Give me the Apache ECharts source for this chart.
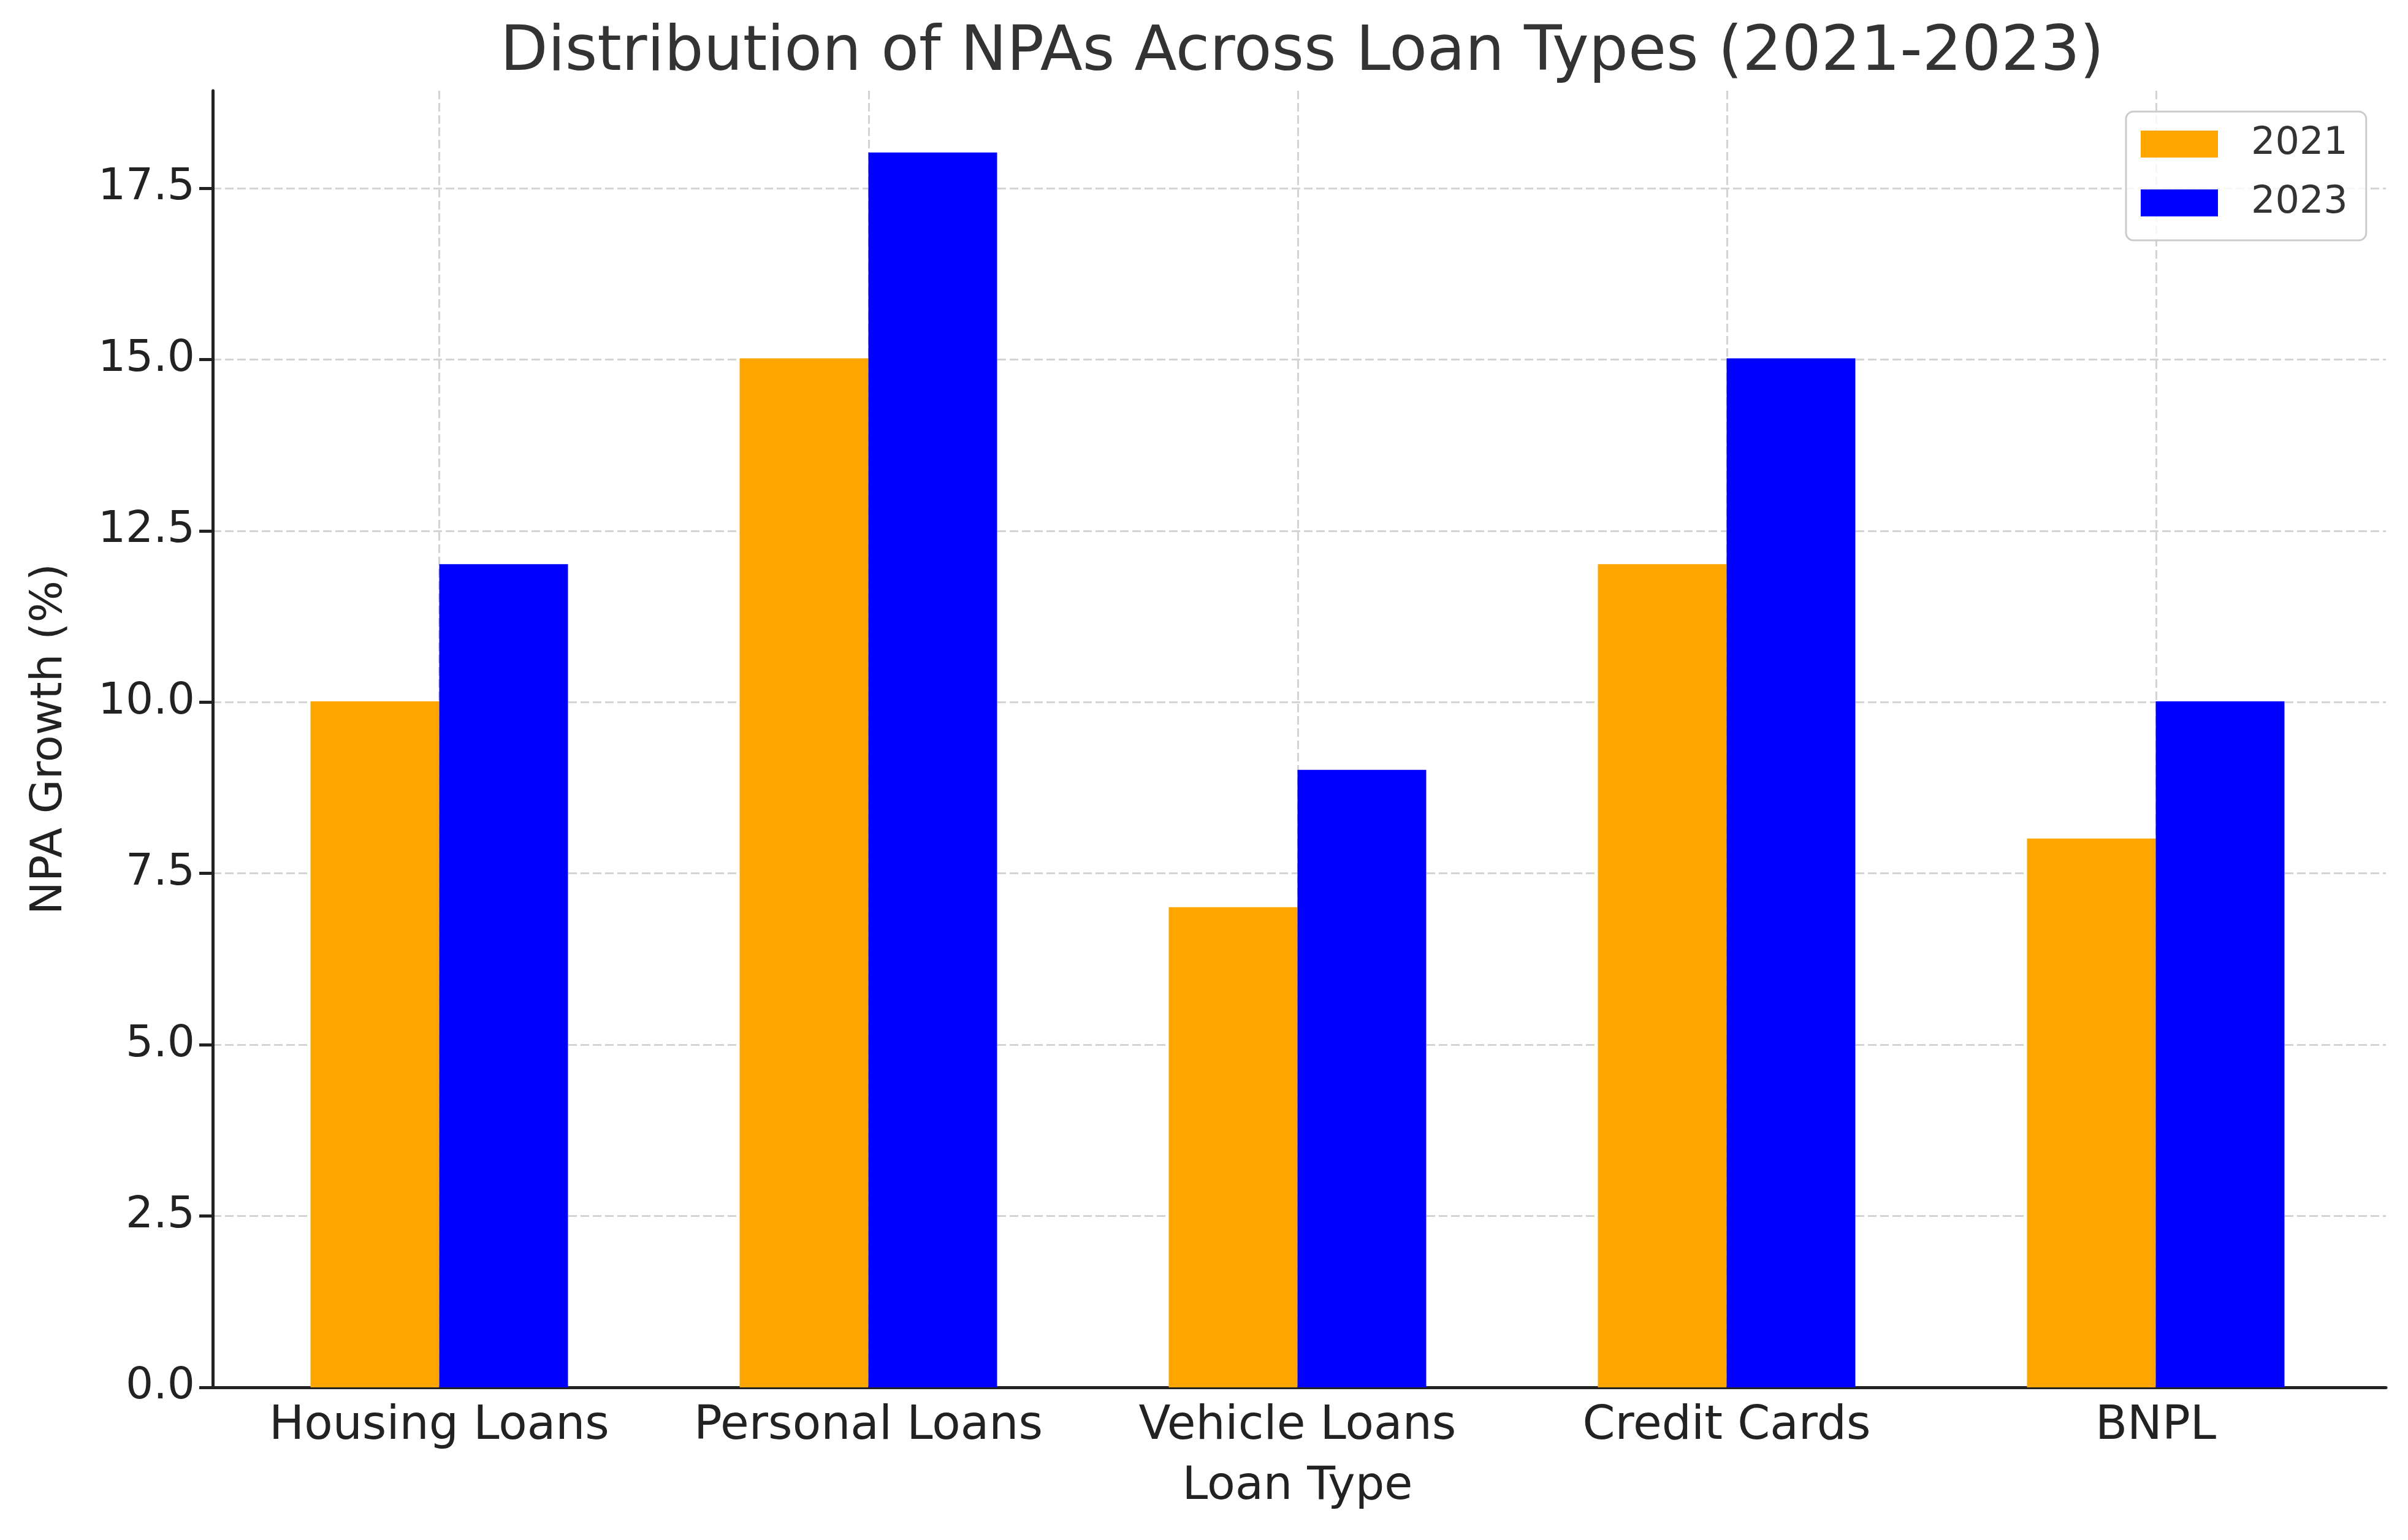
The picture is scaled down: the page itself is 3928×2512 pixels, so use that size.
<!DOCTYPE html>
<html>
<head>
<meta charset="utf-8">
<script src="https://cdn.jsdelivr.net/npm/echarts@6/dist/echarts.min.js"></script>
<style>html,body{margin:0;padding:0;background:#fff}#c{width:3928px;height:2512px}</style>
</head>
<body>
<div id="c"></div>
<script>
const categories = ['Housing Loans', 'Personal Loans', 'Vehicle Loans', 'Credit Cards', 'BNPL'];
const npa2021 = [10, 15, 7, 12, 8];
const npa2023 = [12, 18, 9, 15, 10];
const seriesNames = ['2021', '2023'];
const yTickMax = 17.5;
const yTickStep = 2.5;
const yAxisMax = 18.9;

const FONT = 'DejaVu Sans';
const TOP = 148, BOTTOM = 249;
const gridDash = { color: '#d4d4d4', width: 3, type: [14, 6] };
const hiddenAxis = {
  show: false,
  axisLine: { show: false }, axisTick: { show: false },
  axisLabel: { show: false }, splitLine: { show: false }
};

const chart = echarts.init(document.getElementById('c'), null, { renderer: 'canvas' });
chart.setOption({
  animation: false,
  backgroundColor: '#ffffff',
  title: {
    text: 'Distribution of NPAs Across Loan Types (2021-2023)',
    left: 2119, top: 32, textAlign: 'center',
    textStyle: { fontFamily: FONT, fontSize: 101, fontWeight: 'normal', color: '#333333' }
  },
  legend: {
    orient: 'vertical', left: 3468, top: 182,
    data: seriesNames,
    icon: 'rect', itemWidth: 126, itemHeight: 44, itemGap: 34,
    padding: [22, 30, 30, 24],
    backgroundColor: 'rgba(255,255,255,0.8)',
    borderColor: '#cccccc', borderWidth: 3, borderRadius: 12,
    textStyle: { fontFamily: FONT, fontSize: 62, color: '#333333', padding: [0, 0, 0, 49] }
  },
  grid: [
    { left: 347, right: 36, top: TOP, bottom: BOTTOM },
    { left: 347, right: 36, top: 307, bottom: BOTTOM },
    { left: 366.5, width: 3500, top: TOP, bottom: BOTTOM },
    { left: 716.5, width: 2801, top: TOP, bottom: BOTTOM }
  ],
  xAxis: [
    { gridIndex: 0, type: 'value', min: -0.53, max: 4.53,
      axisLine: { show: true, onZero: false, lineStyle: { color: '#222', width: 5 } },
      axisTick: { show: false }, axisLabel: { show: false }, splitLine: { show: false } },
    Object.assign({ gridIndex: 1, type: 'value', min: 0, max: 1 }, hiddenAxis),
    { gridIndex: 2, type: 'category', data: categories,
      axisLine: { show: false }, axisTick: { show: false }, splitLine: { show: false },
      axisLabel: { interval: 0, fontFamily: FONT, fontSize: 76, color: '#222', margin: 26 },
      name: 'Loan Type', nameLocation: 'middle', nameGap: 125,
      nameTextStyle: { fontFamily: FONT, fontSize: 75, color: '#222' } },
    { gridIndex: 3, type: 'value', min: 0, max: 4, interval: 1,
      axisLine: { show: false }, axisTick: { show: false }, axisLabel: { show: false },
      splitLine: { show: true, lineStyle: gridDash } }
  ],
  yAxis: [
    { gridIndex: 0, type: 'value', min: 0, max: yAxisMax,
      axisLine: { show: true, onZero: false, lineStyle: { color: '#222', width: 5 } },
      axisTick: { show: false }, axisLabel: { show: false }, splitLine: { show: false },
      name: 'NPA Growth (%)', nameLocation: 'middle', nameGap: 230,
      nameTextStyle: { fontFamily: FONT, fontSize: 72, color: '#222' } },
    { gridIndex: 1, type: 'value', min: 0, max: yTickMax, interval: yTickStep,
      axisLine: { show: false },
      axisTick: { show: true, length: 22, lineStyle: { color: '#222', width: 5 } },
      axisLabel: { fontFamily: FONT, fontSize: 71, color: '#222', margin: 29,
        formatter: v => v.toFixed(1) },
      splitLine: { show: true, lineStyle: gridDash } },
    Object.assign({ gridIndex: 2, type: 'value', min: 0, max: yAxisMax }, hiddenAxis),
    Object.assign({ gridIndex: 3, type: 'value', min: 0, max: 1 }, hiddenAxis)
  ],
  series: [
    { name: seriesNames[0], type: 'bar', xAxisIndex: 2, yAxisIndex: 2, data: npa2021,
      barWidth: 210, barGap: '0%', itemStyle: { color: '#FFA500' } },
    { name: seriesNames[1], type: 'bar', xAxisIndex: 2, yAxisIndex: 2, data: npa2023,
      barWidth: 210, barGap: '0%', itemStyle: { color: '#0000FF' } }
  ]
});
</script>
</body>
</html>
